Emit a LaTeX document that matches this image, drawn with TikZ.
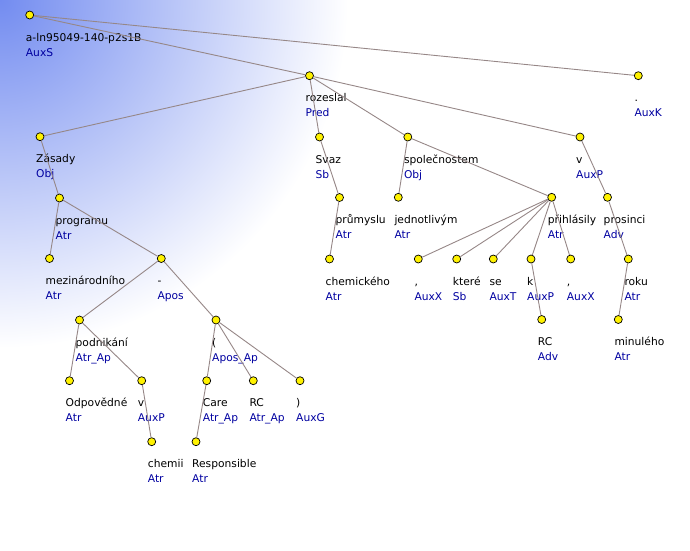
\documentclass[tikz,border=0pt]{standalone}
\usepackage{fontspec}
\setmainfont{DejaVu Sans}
\definecolor{bgblue}{RGB}{115,140,240}
\definecolor{edgec}{RGB}{150,135,135}
\definecolor{funcc}{RGB}{0,0,160}
\pgfdeclareradialshading{bgshade}{\pgfpoint{0bp}{0bp}}{color(0bp)=(bgblue); color(25bp)=(white); color(50bp)=(white)}
\newcommand\tnode[5]{%
  \node[tn] (#1) at (#2,#3) {};
  \node[wlab] (#1w) at (#2-4,#3+26) {#4};
  \node[flab] (#1f) at (#2-4,#3+41) {#5};}
\begin{document}
\begin{tikzpicture}[x=1pt,y=-1pt,
  tn/.style={circle,draw=black,fill=yellow,inner sep=0pt,minimum size=8pt,line width=0.7pt},
  edge/.style={draw=edgec,line width=0.9pt},
  wlab/.style={anchor=base west,inner sep=0pt,font=\fontsize{10.7}{12}\selectfont},
  flab/.style={wlab,text=funcc}]
\useasboundingbox (0,0) rectangle (690,550);
\begin{scope}
  \clip (0,0) rectangle (690,550);
  \shade[shading=bgshade] (0,0) circle (348);
\end{scope}
\tnode{root}{29.7}{15}{a-ln95049-140-p2s1B}{AuxS}
\tnode{pred}{309.5}{75.7}{rozeslal}{Pred}
\tnode{auxk}{638.3}{75.7}{.}{AuxK}
\tnode{zasady}{40}{136.7}{Zásady}{Obj}
\tnode{svaz}{319.5}{137}{Svaz}{Sb}
\tnode{spol}{407.8}{137}{společnostem}{Obj}
\tnode{vv}{580}{137}{v}{AuxP}
\tnode{prog}{59.5}{198}{programu}{Atr}
\tnode{prum}{339.5}{197.5}{průmyslu}{Atr}
\tnode{jedn}{398.3}{197.3}{jednotlivým}{Atr}
\tnode{prih}{551.7}{197.3}{přihlásily}{Atr}
\tnode{pros}{607.5}{197.3}{prosinci}{Adv}
\tnode{mezi}{49.5}{258.5}{mezinárodního}{Atr}
\tnode{apos}{161.3}{258.5}{-}{Apos}
\tnode{chem}{329.5}{259}{chemického}{Atr}
\tnode{ca}{418.3}{259}{,}{AuxX}
\tnode{kt}{456.7}{259}{které}{Sb}
\tnode{se}{493.3}{259}{se}{AuxT}
\tnode{k}{531}{259}{k}{AuxP}
\tnode{cb}{570.7}{259}{,}{AuxX}
\tnode{roku}{628.3}{259}{roku}{Atr}
\tnode{podn}{79.5}{320}{podnikání}{Atr\_Ap}
\tnode{par}{216}{320}{(}{Apos\_Ap}
\tnode{rca}{541.7}{319.5}{RC}{Adv}
\tnode{minu}{618.3}{319.5}{minulého}{Atr}
\tnode{odp}{69.5}{380.7}{Odpovědné}{Atr}
\tnode{vb}{141.7}{380.7}{v}{AuxP}
\tnode{care}{206.7}{380.7}{Care}{Atr\_Ap}
\tnode{rcb}{253.3}{380.7}{RC}{Atr\_Ap}
\tnode{parb}{300}{380.7}{)}{AuxG}
\tnode{chemii}{151.7}{441.7}{chemii}{Atr}
\tnode{resp}{196}{441.7}{Responsible}{Atr}
\foreach \a/\b in {root/pred,root/auxk,pred/zasady,pred/svaz,pred/spol,pred/vv,
  zasady/prog,prog/mezi,prog/apos,apos/podn,apos/par,podn/odp,podn/vb,vb/chemii,
  par/care,par/rcb,par/parb,care/resp,svaz/prum,prum/chem,spol/jedn,spol/prih,
  prih/ca,prih/kt,prih/se,prih/k,prih/cb,k/rca,vv/pros,pros/roku,roku/minu}
  \draw[edge] (\a) -- (\b);
\end{tikzpicture}
\end{document}
